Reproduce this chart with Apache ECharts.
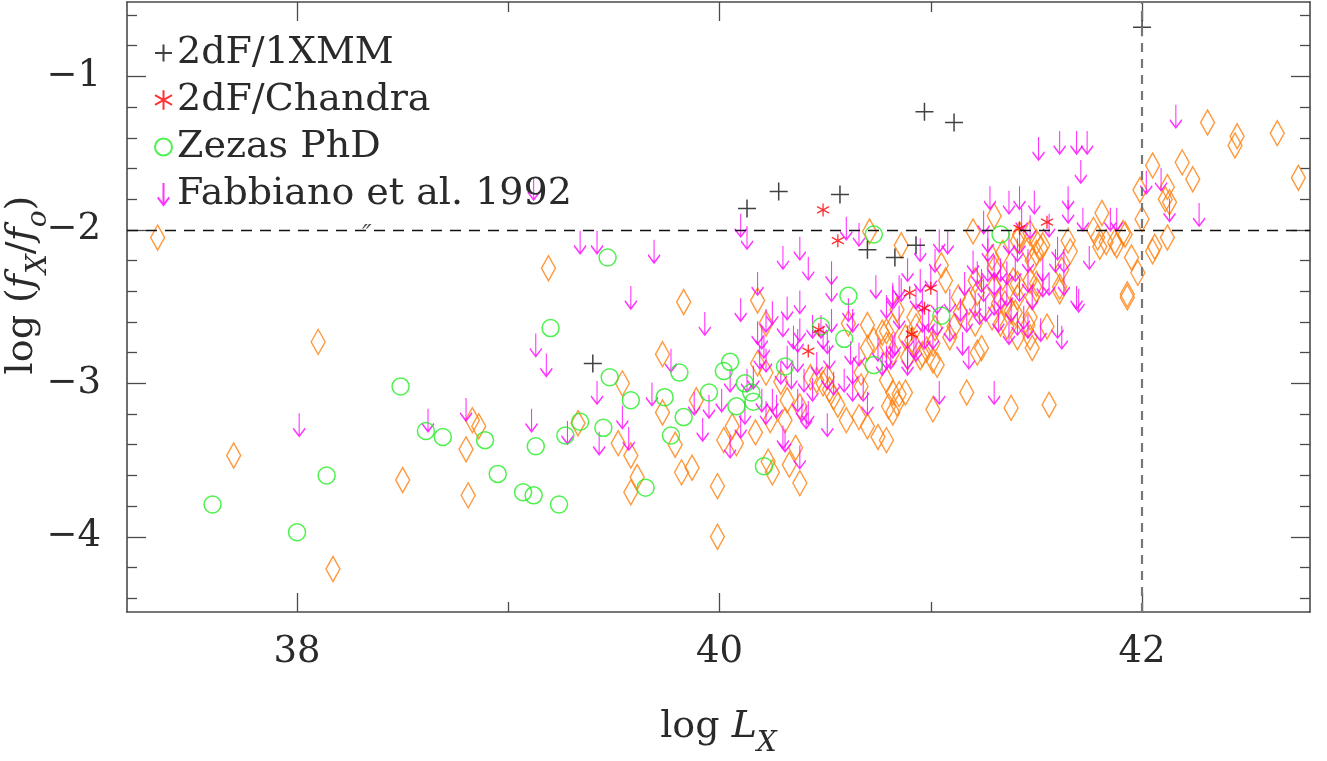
<!DOCTYPE html>
<html>
<head>
<meta charset="utf-8">
<script src="https://cdn.jsdelivr.net/npm/echarts@6/dist/echarts.min.js"></script>
<style>
html,body{margin:0;padding:0;background:#fff;}
#chart{width:1327px;height:761px;}
</style>
</head>
<body>
<div id="chart"></div>
<script>
// ---------------- data (log L_X , log fX/fo) ----------------
const xmm2dF = [[42.00,-0.68],[40.97,-1.23],[41.11,-1.30],[40.13,-1.86],[40.28,-1.75],[40.57,-1.77],[40.70,-2.13],[40.83,-2.18],[40.93,-2.10],[39.40,-2.87]];

const chandra2dF = [[40.49,-1.87],[40.56,-2.07],[40.47,-2.65],[40.42,-2.79],[40.90,-2.41],[41.00,-2.38],[40.97,-2.51],[40.91,-2.68],[41.42,-1.99],[41.55,-1.95]];

const zezasPhD = [[37.60,-3.79],[38.00,-3.97],[38.14,-3.60],[38.49,-3.02],[38.61,-3.31],[38.69,-3.35],[38.89,-3.37],[38.95,-3.59],[39.07,-3.71],[39.12,-3.73],[39.13,-3.41],[39.20,-2.64],[39.24,-3.79],[39.27,-3.34],[39.34,-3.25],[39.45,-3.29],[39.47,-2.18],[39.48,-2.96],[39.58,-3.11],[39.65,-3.68],[39.74,-3.09],[39.77,-3.34],[39.81,-2.93],[39.83,-3.22],[39.95,-3.06],[40.02,-2.92],[40.05,-2.86],[40.08,-3.15],[40.12,-3.00],[40.15,-3.06],[40.16,-3.12],[40.21,-3.54],[40.31,-2.89],[40.48,-2.63],[40.59,-2.71],[40.61,-2.43],[40.73,-2.03],[40.73,-2.88],[41.05,-2.56],[41.33,-2.03]];

const fabbiano1992 = [[38.01,-3.27],[38.62,-3.24],[38.80,-3.17],[39.11,-3.24],[39.13,-2.75],[39.18,-2.88],[39.28,-3.32],[39.42,-3.06],[39.43,-3.39],[39.54,-3.22],[39.34,-2.08],[39.42,-2.08],[39.12,-1.73],[39.58,-2.44],[39.69,-2.14],[39.93,-2.61],[39.57,-3.36],[39.68,-3.07],[39.77,-2.85],[39.92,-3.30],[39.88,-3.13],[39.95,-3.15],[40.01,-3.11],[40.05,-2.98],[40.05,-3.41],[40.10,-3.28],[40.13,-2.98],[40.16,-2.96],[40.19,-2.83],[40.20,-3.11],[40.22,-2.85],[40.27,-3.15],[40.31,-3.37],[40.32,-2.83],[40.34,-2.96],[40.37,-2.72],[40.38,-3.48],[40.39,-3.17],[40.41,-3.22],[40.51,-3.27],[40.49,-2.70],[40.52,-2.83],[40.54,-3.00],[40.59,-2.98],[40.63,-2.93],[40.66,-2.81],[40.68,-3.04],[40.70,-3.13],[40.75,-2.78],[40.77,-2.87],[40.81,-2.83],
[40.10,-1.97],[40.13,-2.05],[40.18,-2.35],[40.10,-2.52],[40.30,-2.18],[40.38,-2.12],[40.42,-2.25],[40.38,-2.47],[40.32,-2.51],[40.30,-2.62],[40.25,-2.54],[40.22,-2.59],[40.53,-2.28],[40.53,-2.39],[40.60,-1.99],[40.66,-2.03],[40.74,-2.37],[40.82,-2.42],[40.53,-2.59],[40.48,-2.63],[40.61,-2.52],[40.18,-2.67],[40.20,-2.70],[40.85,-2.37],[40.38,-2.65],[40.35,-2.70],[40.44,-2.63],[40.51,-2.73],[40.63,-2.59],[40.62,-2.80],[40.21,-2.76],[40.29,-2.93],[40.37,-2.85],[40.40,-2.98],[40.46,-2.87],[40.51,-2.96],[40.63,-3.04],[40.82,-2.76],[40.89,-2.83],[40.92,-2.76],[40.96,-2.46],[40.99,-2.59],[40.79,-2.50],[40.12,-3.19],[40.22,-3.19],[40.30,-3.35],[40.37,-3.11],[40.42,-3.19],[40.25,-3.11],[40.44,-3.04],
[41.28,-1.79],[41.37,-1.82],[41.42,-1.79],[41.49,-1.82],[41.65,-1.79],[41.27,-2.07],[41.37,-2.08],[41.42,-2.08],[41.04,-2.07],[41.08,-2.08],[40.95,-2.13],[41.02,-2.20],[40.89,-2.26],[40.95,-2.33],[41.00,-2.31],[41.20,-2.21],[41.22,-2.28],[41.16,-2.35],[41.21,-2.49],[41.27,-2.26],[41.30,-2.35],[41.36,-2.28],[41.40,-2.26],[41.46,-2.33],[41.53,-2.26],[41.59,-2.20],[41.36,-2.42],[41.42,-2.39],[41.48,-2.44],[41.53,-2.36],[41.63,-2.35],[41.69,-2.44],[40.82,-2.44],[40.86,-2.39],[40.93,-2.44],[41.03,-2.47],[41.09,-2.46],[41.14,-2.52],[41.17,-2.59],[41.23,-2.54],[41.30,-2.48],[41.32,-2.59],[41.38,-2.52],[41.41,-2.61],[41.46,-2.63],[41.52,-2.65],[41.60,-2.63],[41.62,-2.70],[40.85,-2.57],[40.96,-2.59],[41.03,-2.61],[41.09,-2.65],[41.15,-2.74],[41.18,-2.83],[40.79,-2.83],[40.83,-2.74],[40.89,-2.70],[40.93,-2.78],
[41.51,-1.47],[41.61,-1.43],[41.69,-1.43],[41.74,-1.43],[41.71,-1.62],[41.65,-1.88],[41.72,-1.93],[41.85,-1.93],[41.88,-1.93],[41.25,-1.95],[41.43,-1.93],[41.47,-1.98],[41.56,-1.97],[42.02,-1.69],[41.60,-2.12],[41.75,-2.18],[41.63,-2.20],[41.27,-2.13],[41.30,-2.24],[41.41,-2.13],[41.46,-2.20],[41.56,-2.35],[41.70,-2.46],[41.33,-2.26],[41.24,-2.33],[41.25,-2.39],[41.33,-2.44],[41.44,-2.57],[41.26,-2.52],[42.16,-1.26],[42.09,-1.67],[42.13,-1.87],[42.27,-1.90],[41.04,-3.06],[41.30,-3.06],[40.89,-2.87],[41.37,-2.67],[41.01,-2.70],[40.97,-2.70]];

const otherGalaxies = [[37.34,-2.05],[37.70,-3.47],[38.10,-2.73],[38.17,-4.21],[38.50,-3.63],[38.80,-3.43],[38.81,-3.73],[38.83,-3.24],[38.86,-3.28],[39.19,-2.25],[39.33,-3.26],[39.54,-3.00],[39.52,-3.39],[39.58,-3.47],[39.61,-3.61],[39.58,-3.71],[39.73,-2.81],[39.73,-3.19],[39.79,-3.40],[39.82,-3.58],[39.87,-3.55],[39.89,-3.11],[39.83,-2.47],[39.99,-3.67],[39.99,-4.00],[40.02,-3.37],[40.06,-3.28],[40.08,-3.39],[40.17,-3.32],[40.18,-2.87],[40.22,-2.93],[40.23,-3.51],[40.24,-3.24],[40.25,-3.58],[40.29,-2.99],[40.31,-3.24],[40.32,-3.11],[40.33,-3.53],[40.36,-3.42],[40.38,-3.65],[40.18,-2.46],[40.22,-2.61],[40.38,-3.15],[40.43,-2.96],[40.46,-2.98],[40.49,-3.00],[40.51,-2.96],[40.52,-3.04],[40.54,-3.09],[40.56,-3.14],[40.60,-3.24],[40.61,-2.61],[40.66,-3.22],[40.67,-2.93],[40.70,-3.28],[40.70,-2.62],[40.70,-2.77],[40.73,-2.72],[40.75,-3.35],[40.79,-3.37],[40.79,-2.98],[40.79,-2.66],[40.80,-3.15],[40.82,-2.80],[40.82,-3.06],[40.84,-3.13],[40.84,-2.52],[40.88,-3.06],[40.88,-2.70],[40.92,-2.57],[40.95,-2.83],[40.98,-2.78],[41.01,-3.17],[41.01,-2.85],[41.02,-2.64],[40.77,-2.67],[40.67,-3.02],
[40.86,-2.10],[41.05,-2.23],[41.07,-2.33],[41.20,-2.01],[41.30,-1.91],[41.21,-2.33],[41.22,-2.41],[41.29,-2.18],[41.30,-2.25],[41.34,-2.15],[41.34,-2.31],[41.41,-2.07],[41.46,-2.13],[41.47,-2.02],[41.48,-2.20],[41.53,-2.10],[41.50,-2.15],[41.50,-2.35],[41.41,-2.35],[41.41,-2.44],[41.48,-2.44],[41.62,-2.26],[41.61,-2.37],[41.65,-2.07],[41.66,-2.14],[41.13,-2.44],[41.14,-2.54],[41.18,-2.47],[41.21,-2.61],[41.22,-2.80],[41.29,-2.57],[41.35,-2.48],[41.36,-2.63],[41.40,-2.54],[41.41,-2.70],[41.47,-2.57],[41.47,-2.70],[41.48,-2.77],[41.55,-2.63],[41.01,-2.74],[40.96,-2.81],[41.09,-2.70],[41.11,-2.63],[40.82,-2.63],[40.91,-2.72],[40.89,-2.83],[40.93,-2.63],[40.79,-2.75],
[41.50,-2.08],[41.52,-2.12],[41.42,-2.03],[41.77,-2.00],[41.79,-2.05],[41.81,-1.89],[41.80,-2.11],[41.87,-2.08],[41.91,-2.02],[41.95,-2.18],[41.98,-2.28],[41.93,-2.42],[41.93,-2.44],[42.00,-1.93],[41.99,-1.74],[42.05,-1.58],[41.61,-2.40],[41.47,-2.33],[41.50,-2.39],[41.39,-2.33],[41.30,-2.37],[41.32,-2.48],[41.33,-2.61],[41.46,-2.62],[41.24,-2.77],[41.38,-2.53],
[42.31,-1.30],[42.45,-1.39],[42.44,-1.45],[42.64,-1.37],[42.74,-1.66],[42.19,-1.56],[42.24,-1.67],[42.12,-1.72],[42.11,-1.80],[42.13,-1.82],[42.12,-2.05],[41.83,-2.08],[41.88,-2.10],[41.92,-2.03],[42.06,-2.11],[42.05,-2.14],
[41.03,-2.88],[41.17,-3.06],[41.38,-3.16],[41.56,-3.14],[40.85,-3.07],[40.82,-3.19],[40.71,-2.01]];

const strayMark = [[38.33,-1.99]];

// axis ticks / reference lines
const xRange = [37.195, 42.795];
const yRange = [-4.49, -0.515];
const xMajorTicks = [38, 40, 42];
const xMinorTicks = [39, 41];
const yMajorTicks = [-4, -3, -2, -1];
const yMinorTicks = [-4.4,-4.2,-3.8,-3.6,-3.4,-3.2,-2.8,-2.6,-2.4,-2.2,-1.8,-1.6,-1.4,-1.2,-0.8,-0.6];
const refLineY = -2;
const refLineX = 42;

// ---------------- styling ----------------
const FONT = 'DejaVu Serif';
const TXT = '#2a2a2a';
const AX = '#4a4a4a';
const PLUS = 'path://M0,9L18,9M9,0L9,18';
const STAR = 'path://M6,0L6,12M0.8,3L11.2,9M0.8,9L11.2,3';
const ARROW = 'path://M6,0L6,23M0,15L6,23L12,15';

function xAx(pos, ticks, len, showLine, showLabel) {
  return {
    type: 'value', position: pos, min: xRange[0], max: xRange[1],
    axisLine: {show: showLine, onZero: false, lineStyle: {color: AX, width: 1.6}},
    axisTick: {show: true, inside: true, length: len, customValues: ticks, lineStyle: {color: AX, width: 1.3}},
    axisLabel: {show: showLabel, customValues: ticks, margin: 22, fontFamily: FONT, fontSize: 37, color: TXT},
    splitLine: {show: false}
  };
}
function yAx(pos, ticks, len, showLine, showLabel) {
  return {
    type: 'value', position: pos, min: yRange[0], max: yRange[1],
    axisLine: {show: showLine, onZero: false, lineStyle: {color: AX, width: 1.6}},
    axisTick: {show: true, inside: true, length: len, customValues: ticks, lineStyle: {color: AX, width: 1.3}},
    axisLabel: {show: showLabel, customValues: ticks, margin: 26, fontFamily: FONT, fontSize: 37, color: TXT,
      formatter: v => (v < 0 ? '\u2212' : '') + Math.abs(v)},
    splitLine: {show: false}
  };
}

const nameRich = {
  n: {fontFamily: FONT, fontSize: 38, lineHeight: 40, verticalAlign: 'top', color: TXT},
  i: {fontFamily: FONT, fontSize: 38, fontStyle: 'italic', lineHeight: 40, verticalAlign: 'top', color: TXT},
  sub: {fontFamily: FONT, fontSize: 28, fontStyle: 'italic', lineHeight: 28, verticalAlign: 'top', padding: [22, 0, 0, 0], color: TXT}
};

const xAxes = [
  xAx('bottom', xMajorTicks, 19, true, true),
  xAx('bottom', xMinorTicks, 10, false, false),
  xAx('top', xMajorTicks, 19, true, false),
  xAx('top', xMinorTicks, 10, false, false)
];
xAxes[0].name = '{n|log }{i|L}{sub|X}';
xAxes[0].nameLocation = 'middle';
xAxes[0].nameGap = 96;
xAxes[0].nameMoveOverlap = false;
xAxes[0].nameTextStyle = {fontFamily: FONT, fontSize: 38, color: TXT, rich: nameRich};

const yAxes = [
  yAx('left', yMajorTicks, 19, true, true),
  yAx('left', yMinorTicks, 10, false, false),
  yAx('right', yMajorTicks, 19, true, false),
  yAx('right', yMinorTicks, 10, false, false)
];
yAxes[0].name = '{n|log (}{i|f}{sub|X}{n|/}{i|f}{sub|o}{n|)}';
yAxes[0].nameLocation = 'middle';
yAxes[0].nameRotate = 90;
yAxes[0].nameGap = 84;
yAxes[0].nameMoveOverlap = false;
yAxes[0].nameTextStyle = {fontFamily: FONT, fontSize: 38, color: TXT, padding: [0, 0, 0, 44], rich: nameRich};

const chart = echarts.init(document.getElementById('chart'), null, {renderer: 'canvas'});
chart.setOption({
  animation: false,
  backgroundColor: '#fff',
  grid: {left: 127, right: 17, top: 2, bottom: 149, containLabel: false, outerBoundsMode: 'none'},
  xAxis: xAxes,
  yAxis: yAxes,
  legend: {
    orient: 'vertical', left: 149, top: 28, itemWidth: 17, itemHeight: 22, itemGap: 7,
    textStyle: {fontFamily: FONT, fontSize: 38, lineHeight: 40, color: TXT},
    selectedMode: false,
    data: [
      {name: '2dF/1XMM', icon: PLUS},
      {name: '2dF/Chandra', icon: STAR},
      {name: 'Zezas PhD', icon: 'circle'},
      {name: 'Fabbiano et al. 1992', icon: ARROW}
    ]
  },
  series: [
    {
      name: 'Other', type: 'scatter', data: otherGalaxies,
      symbol: 'diamond', symbolSize: [14, 25],
      itemStyle: {color: 'rgba(0,0,0,0)', borderColor: '#ff7f0e', borderWidth: 1.5},
      markLine: {
        silent: true, symbol: 'none', label: {show: false},
        data: [
          {yAxis: refLineY, lineStyle: {color: '#111', width: 1.3, type: [11, 8]}},
          {xAxis: refLineX, lineStyle: {color: '#777', width: 2.2, type: [9, 7]}}
        ]
      }
    },
    {
      name: 'Fabbiano et al. 1992', type: 'scatter', data: fabbiano1992,
      symbol: ARROW, symbolSize: [12, 23],
      itemStyle: {color: 'rgba(0,0,0,0)', borderColor: '#ff00ff', borderWidth: 1.5}
    },
    {
      name: 'Zezas PhD', type: 'scatter', data: zezasPhD,
      symbol: 'circle', symbolSize: 17,
      itemStyle: {color: 'rgba(0,0,0,0)', borderColor: '#22ee22', borderWidth: 1.5}
    },
    {
      name: '2dF/Chandra', type: 'scatter', data: chandra2dF,
      symbol: STAR, symbolSize: [12, 13],
      itemStyle: {color: 'rgba(0,0,0,0)', borderColor: '#ff0000', borderWidth: 1.4}
    },
    {
      name: '2dF/1XMM', type: 'scatter', data: xmm2dF,
      symbol: PLUS, symbolSize: 18,
      itemStyle: {color: 'rgba(0,0,0,0)', borderColor: '#111', borderWidth: 1.5}
    },
    {
      name: 'mark', type: 'scatter', data: strayMark, symbolSize: 0,
      label: {show: true, position: 'inside', offset: [0, 8], formatter: '\u2033', fontFamily: FONT, fontStyle: 'italic', fontSize: 26, color: TXT}
    }
  ]
});
</script>
</body>
</html>
